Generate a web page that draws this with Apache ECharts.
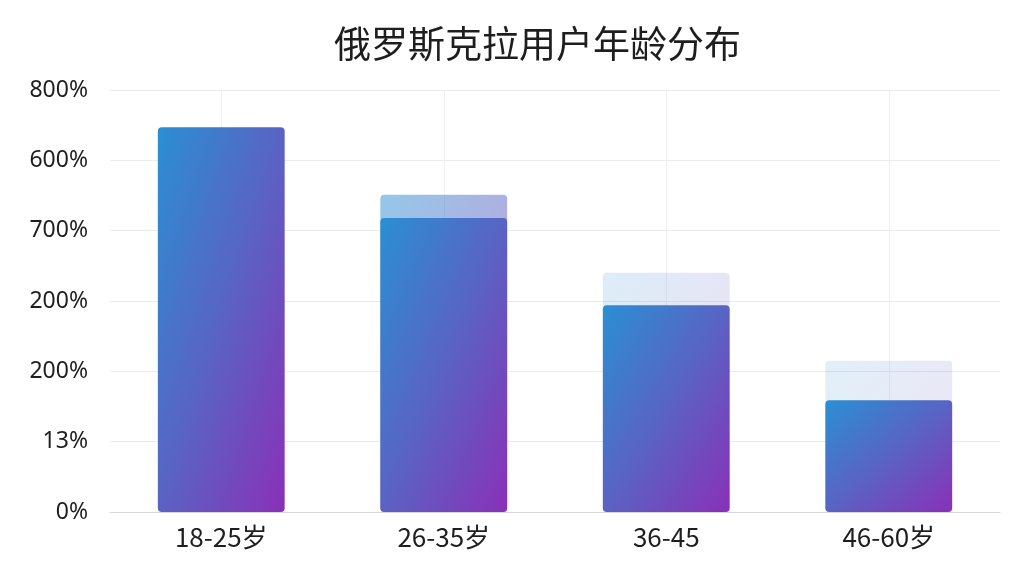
<!DOCTYPE html>
<html>
<head>
<meta charset="utf-8">
<script src="https://cdn.jsdelivr.net/npm/echarts@6/dist/echarts.min.js"></script>
<style>
html,body{margin:0;padding:0;background:#fff;}
#echarts1{width:1024px;height:576px;}
</style>
</head>
<body>
<div id="echarts1"></div>
<script>
// 数据
var categories = ["18-25岁", "26-35岁", "36-45", "46-60岁"];
var mainValues = [5.47, 4.18, 2.94, 1.59];
var ghostValues = [null, 4.51, 3.40, 2.15];
var ghostOpacity = [0, 0.5, 0.16, 0.14];
var tickLabels = ["0%", "13%", "200%", "200%", "700%", "600%", "800%"];

var pxPerUnit = 70.3; // 每单位像素高度
var barPx = 127;      // 柱宽像素

// 渐变：左上蓝 -> 右下紫（按柱子实际宽高算方向）
function grad(v){
    var h = Math.max((v || 0) * pxPerUnit, 1), w = barPx;
    var s = h * h + w * w;
    return new echarts.graphic.LinearGradient(0, 0, 2 * h * h / s, 2 * w * w / s, [
        {offset: 0, color: "#2a8fd3"},
        {offset: 0.5, color: "#5a63c3"},
        {offset: 1, color: "#8a30b8"}
    ]);
}

var myChart1 = echarts.init(document.getElementById('echarts1'));
myChart1.setOption({
    backgroundColor: "#fff",
    title: {
        text: "俄罗斯克拉用户年龄分布",
        left: 329,
        top: 20,
        textStyle: {
            fontFamily: "Noto Sans CJK SC",
            fontSize: 37,
            fontWeight: "normal",
            color: "#1e1e1e"
        }
    },
    grid: {left: 110, right: 24, top: 90, bottom: 64},
    xAxis: [{
        type: "category",
        data: categories,
        axisLine: {lineStyle: {color: "#d8d8d8"}},
        axisTick: {alignWithLabel: true, length: 6, lineStyle: {color: "#d8d8d8"}},
        axisLabel: {fontFamily: "Noto Sans CJK SC", fontSize: 26, color: "#1e1e1e", margin: 12},
        splitLine: {show: false}
    }, {
        type: "value",
        min: 0, max: 8, interval: 1,
        show: true,
        axisLine: {show: false}, axisTick: {show: false}, axisLabel: {show: false},
        splitLine: {show: true, lineStyle: {color: ["transparent", "#f0f0f0"]}}
    }],
    yAxis: {
        type: "value",
        min: 0, max: 6, interval: 1,
        axisLine: {show: false},
        axisTick: {show: false},
        axisLabel: {
            fontFamily: "Noto Sans", fontSize: 23, color: "#1e1e1e", margin: 22,
            formatter: function(v){ return tickLabels[Math.round(v)]; }
        },
        splitLine: {lineStyle: {color: "#ececec"}}
    },
    series: [{
        type: "bar",
        barWidth: "57%",
        barGap: "-100%",
        z: 2,
        data: ghostValues.map(function(v, i){
            return {value: v, itemStyle: {opacity: ghostOpacity[i], color: grad(v)}};
        }),
        itemStyle: {borderRadius: 4}
    }, {
        type: "bar",
        barWidth: "57%",
        z: 3,
        data: mainValues.map(function(v){
            return {value: v, itemStyle: {color: grad(v)}};
        }),
        itemStyle: {borderRadius: 4}
    }]
});
window.addEventListener("resize", function(){
    myChart1.resize();
});
</script>
</body>
</html>
